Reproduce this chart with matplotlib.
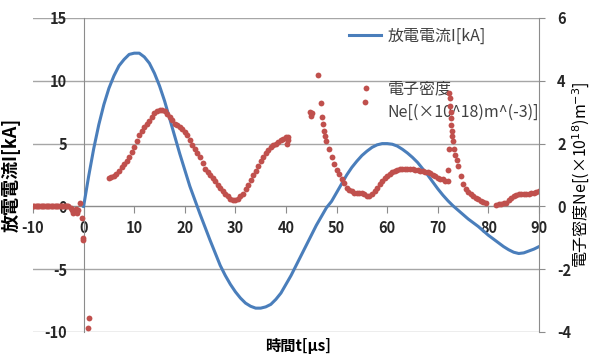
import numpy as np
import matplotlib
matplotlib.use('Agg')
import matplotlib.pyplot as plt
from matplotlib.lines import Line2D

plt.rcParams['font.family'] = ['Noto Sans CJK JP', 'DejaVu Sans']
plt.rcParams['axes.unicode_minus'] = False

# discharge current I [kA], sampled every 1 us from 0 to 90
t_cur = np.arange(0, 91, 1)
i_cur = [0.0, 2.4, 4.6, 6.5, 8.1, 9.4, 10.4, 11.2, 11.7, 12.1,
         12.2, 12.2, 11.9, 11.4, 10.6, 9.6, 8.4, 7.0, 5.6, 4.2,
         2.9, 1.6, 0.5, -0.6, -1.65, -2.7, -3.7, -4.7, -5.5, -6.2,
         -6.8, -7.3, -7.7, -7.95, -8.1, -8.1, -8.0, -7.8, -7.4, -6.9,
         -6.2, -5.5, -4.7, -3.9, -3.1, -2.3, -1.5, -0.8, -0.1, 0.4,
         1.1, 1.8, 2.5, 3.1, 3.6, 4.05, 4.4, 4.7, 4.9, 5.0,
         5.0, 4.95, 4.8, 4.55, 4.25, 3.9, 3.5, 3.0, 2.5, 1.95,
         1.4, 0.9, 0.45, 0.05, -0.3, -0.65, -1.0, -1.3, -1.6, -1.95,
         -2.3, -2.6, -2.9, -3.2, -3.45, -3.65, -3.75, -3.7, -3.55, -3.4,
         -3.2]

# electron density Ne [x10^18 m^-3]
t_pre = np.arange(-10, -2.9, 0.25)
ne_pre = [0.0] * len(t_pre)

t_spk = [-2.4, -2.2, -2.0, -1.8, -1.6, -1.4, -1.2, -0.8, -0.4, -0.2, -0.1, 1.0, 0.8]
ne_spk = [-0.04, -0.12, -0.2, -0.16, -0.08, -0.2, -0.12, 0.12, -0.36, -1.0, -1.08, -3.56, -3.88]

t_a = np.arange(5.0, 40.5, 0.5)
ne_a = [0.92, 0.94, 0.98, 1.04, 1.14, 1.26, 1.36, 1.44, 1.58, 1.72,
        1.88, 2.08, 2.28, 2.40, 2.52, 2.62, 2.72, 2.84, 2.96, 3.04,
        3.08, 3.08, 3.04, 2.94, 2.84, 2.74, 2.64, 2.58, 2.52, 2.46,
        2.38, 2.28, 2.12, 1.96, 1.84, 1.70, 1.56, 1.38, 1.20, 1.10,
        1.00, 0.90, 0.80, 0.68, 0.58, 0.48, 0.40, 0.32, 0.24, 0.20,
        0.20, 0.24, 0.32, 0.40, 0.54, 0.68, 0.84, 1.00, 1.14, 1.28,
        1.44, 1.58, 1.70, 1.80, 1.88, 1.94, 2.00, 2.06, 2.12, 2.16,
        2.20]
t_a_end = [40.2, 40.3, 40.4]
ne_a_end = [2.00, 2.10, 2.22]

t_iso = [44.7, 45.0, 45.2, 46.3, 47.0, 55.9]
ne_iso = [3.0, 2.88, 2.96, 4.2, 3.28, 3.76]

t_b = [47.2, 47.4, 47.6, 47.8, 48.0, 48.5, 49.0, 49.5, 50.0, 50.5,
       51.0, 51.5, 52.0, 52.5, 53.0, 53.5, 54.0, 54.5, 55.0, 55.5,
       56.0, 56.5, 57.0, 57.5, 58.0, 58.5, 59.0, 59.5, 60.0, 60.5,
       61.0, 61.5, 62.0, 62.5, 63.0, 63.5, 64.0, 64.5, 65.0, 65.5,
       66.0, 66.5, 67.0, 67.5, 68.0, 68.5, 69.0, 69.5, 70.0, 70.5,
       71.0, 71.5, 72.0]
ne_b = [2.84, 2.64, 2.40, 2.24, 2.08, 1.84, 1.56, 1.34, 1.16, 1.02,
        0.88, 0.74, 0.60, 0.52, 0.48, 0.44, 0.44, 0.44, 0.42, 0.38,
        0.34, 0.32, 0.38, 0.48, 0.60, 0.72, 0.82, 0.90, 0.98, 1.04,
        1.08, 1.12, 1.16, 1.18, 1.20, 1.20, 1.20, 1.20, 1.18, 1.16,
        1.16, 1.14, 1.12, 1.10, 1.08, 1.06, 1.00, 0.96, 0.92, 0.88,
        0.86, 0.82, 0.80]

t_c = [72.0, 72.2, 72.3, 72.4, 72.5, 72.55, 72.6, 72.7, 72.8, 72.9,
       73.0, 73.2, 73.4, 73.7, 74.0, 74.5, 75.0, 75.5, 76.0, 76.5,
       77.0, 77.5, 78.0, 78.5, 79.0, 79.5]
ne_c = [1.16, 1.84, 3.60, 3.44, 3.20, 3.00, 2.80, 2.60, 2.40, 2.24,
        2.08, 1.84, 1.64, 1.48, 1.28, 0.96, 0.72, 0.56, 0.46, 0.38,
        0.32, 0.26, 0.22, 0.18, 0.14, 0.10]

t_d = [81.5, 82.0, 82.5, 83.0, 83.5, 84.0, 84.5, 85.0, 85.5, 86.0,
       86.5, 87.0, 87.5, 88.0, 88.5, 89.0, 89.5, 90.0]
ne_d = [0.06, 0.08, 0.08, 0.10, 0.12, 0.20, 0.26, 0.32, 0.36, 0.38,
        0.38, 0.38, 0.40, 0.40, 0.42, 0.44, 0.46, 0.48]

t_ne = np.concatenate([t_pre, t_spk, t_a, t_a_end, t_iso, t_b, t_c, t_d])
ne = np.concatenate([ne_pre, ne_spk, ne_a, ne_a_end, ne_iso, ne_b, ne_c, ne_d])

blue = '#4a7ebb'
red = '#c0504d'
grid_c = '#a6a6a6'
axis_c = '#8c8c8c'

fig = plt.figure(figsize=(5.92, 3.54), dpi=100)
ax = fig.add_axes([33 / 592, 22 / 354, 506 / 592, 314 / 354])
ax2 = ax.twinx()

ax.plot(t_cur, i_cur, color=blue, lw=2.2, zorder=3)
ax2.plot(t_ne, ne, 'o', color=red, ms=4.2, mew=0, zorder=2)

ax.set_xlim(-10, 90)
ax.set_ylim(-10, 15)
ax2.set_ylim(-4, 6)
ax.set_xticks(np.arange(-10, 91, 10))
ax.set_yticks(np.arange(-10, 16, 5))
ax2.set_yticks(np.arange(-4, 7, 2))

# horizontal grid only
ax.grid(axis='y', color=grid_c, lw=1)
ax.set_axisbelow(True)

for s in ['top', 'right']:
    ax.spines[s].set_visible(False)
ax.spines['left'].set_position(('data', 0))
ax.spines['bottom'].set_position(('data', 0))
ax.spines['left'].set_color(axis_c)
ax.spines['bottom'].set_color(axis_c)
for s in ['top', 'left', 'bottom']:
    ax2.spines[s].set_visible(False)
ax2.spines['right'].set_color(axis_c)

ax.tick_params(axis='x', direction='out', length=5, color=axis_c, pad=5,
               labelsize=10.5, labelcolor='#262626')
ax.tick_params(axis='y', length=0, pad=12, labelsize=10.5, labelcolor='#262626')
ax2.tick_params(axis='y', direction='out', length=4, color=axis_c, pad=9,
                labelsize=10.5, labelcolor='#262626')
for lab in ax.get_xticklabels() + ax.get_yticklabels() + ax2.get_yticklabels():
    lab.set_fontweight('bold')

ax.set_xlabel('時間t[μs]', fontsize=11, fontweight='bold')
ax.xaxis.set_label_coords(0.524, -0.02)
ax.set_ylabel('放電電流I[kA]', fontsize=13, fontweight='bold')
ax.yaxis.set_label_coords(-0.025, 0.5)
ax2.set_ylabel('電子密度Ne[(×10$^{18}$)m$^{-3}$]', fontsize=11.5)
ax2.yaxis.set_label_coords(1.063, 0.5)

handles = [Line2D([], [], color=blue, lw=2.2),
           Line2D([], [], ls='none', marker='o', color=red, ms=4.2, mew=0)]
labels = ['放電電流I[kA]', '電子密度\nNe[(×10^18)m^(-3)]']
leg = ax.legend(handles, labels, loc='upper left', bbox_to_anchor=(0.596, 1.015),
                frameon=False, fontsize=11.5, labelspacing=2.25, handlelength=2.0,
                handletextpad=0.4)
for txt in leg.get_texts():
    txt.set_color('#404040')
    txt.set_linespacing(1.5)

fig.savefig('out.png', dpi=100)
